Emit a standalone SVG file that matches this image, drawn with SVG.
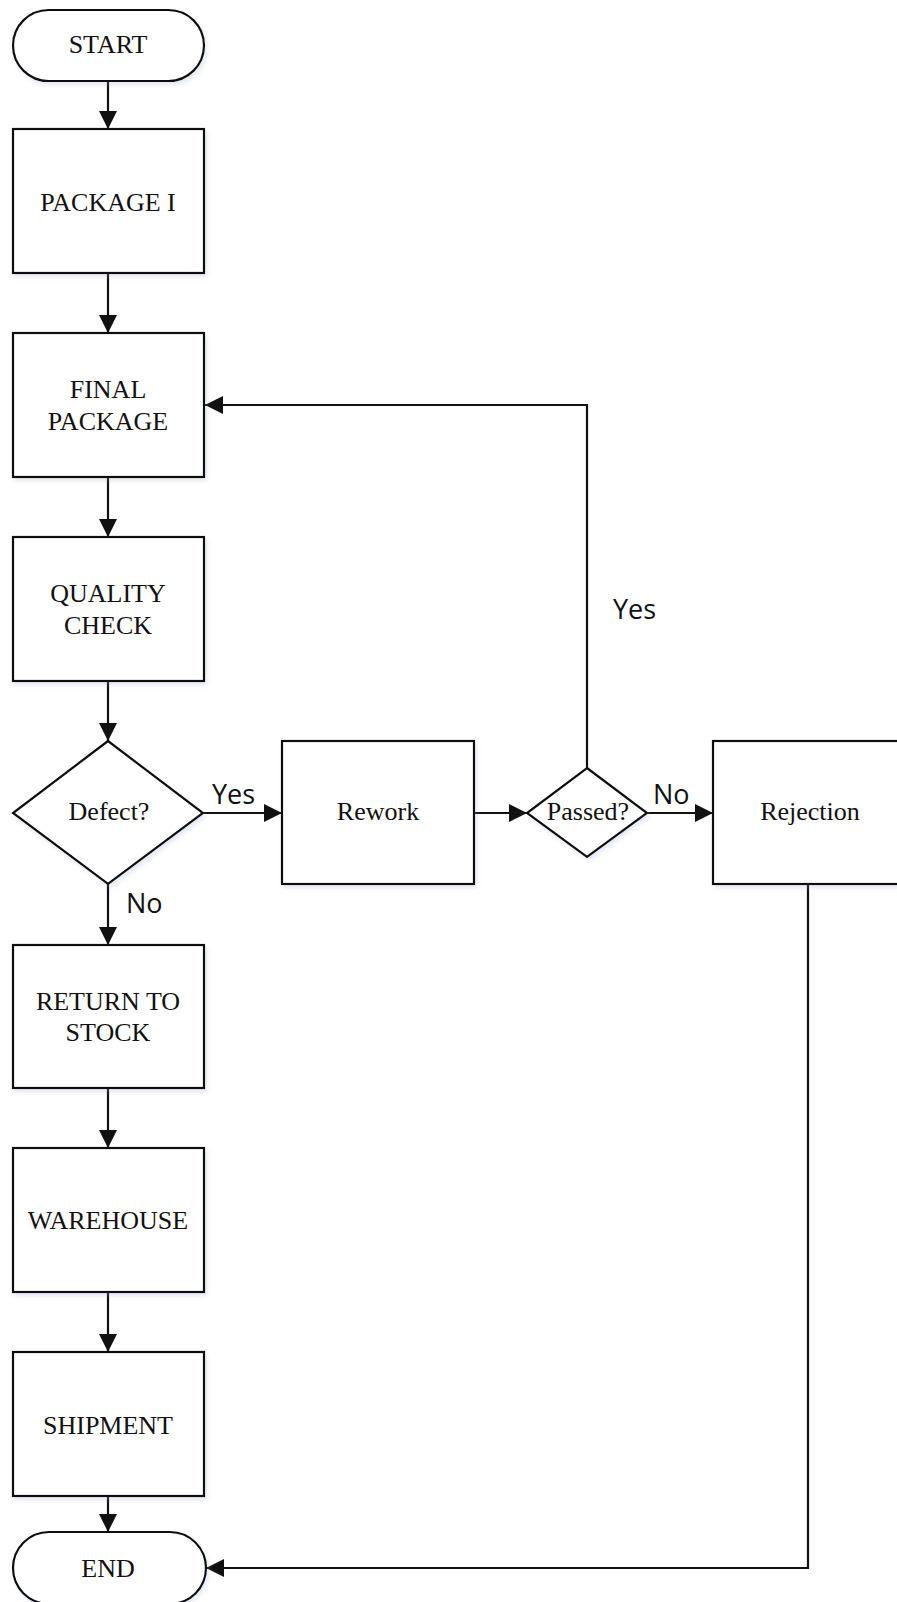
<svg xmlns="http://www.w3.org/2000/svg" width="897" height="1602" viewBox="0 0 897 1602">
<style>
.shape{fill:#fff;stroke:#111;stroke-width:2.2;filter:url(#sh)}
.t{font-family:"Liberation Serif","Times New Roman",serif;font-size:26px;fill:#111;text-anchor:middle}
.lbl{font-family:"Open Sans","Noto Sans",sans-serif;font-size:27px;fill:#111}
.c{fill:none;stroke:#111;stroke-width:2.2;marker-end:url(#ah)}
</style>
<defs>
<marker id="ah" markerUnits="userSpaceOnUse" markerWidth="18" markerHeight="18" refX="18" refY="9" orient="auto">
<path d="M0,0 L18,9 L0,18 z" fill="#111"/>
</marker>
<filter id="sh" x="-10%" y="-10%" width="125%" height="125%">
<feDropShadow dx="2" dy="3" stdDeviation="2" flood-color="#8fa6c8" flood-opacity="0.25"/>
</filter>
</defs>
<rect width="897" height="1602" fill="#fff"/>
<g id="connectors">
<path class="c" d="M108,81 V129"/>
<path class="c" d="M108,273 V333"/>
<path class="c" d="M108,477 V537"/>
<path class="c" d="M108,681 V741"/>
<path class="c" d="M108,884 V945"/>
<path class="c" d="M108,1088 V1148"/>
<path class="c" d="M108,1292 V1352"/>
<path class="c" d="M108,1496 V1532"/>
<path class="c" d="M203,813 H282"/>
<path class="c" d="M474,813 H527"/>
<path class="c" d="M647,813 H713"/>
<path class="c" d="M587,768 V405 H205"/>
<path class="c" d="M808,884 V1568 H206"/>
<text class="lbl" x="212" y="804">Yes</text>
<text class="lbl" x="126" y="913">No</text>
<text class="lbl" x="653" y="804">No</text>
<text class="lbl" x="613" y="619">Yes</text>
</g>
<g id="start"><rect class="shape" x="13" y="10" width="191" height="71" rx="35.5"/><text class="t" x="108" y="53">START</text></g>
<g id="package1"><rect class="shape" x="13" y="129" width="191" height="144"/><text class="t" x="108" y="211">PACKAGE I</text></g>
<g id="finalpackage"><rect class="shape" x="13" y="333" width="191" height="144"/><text class="t" x="108" y="398">FINAL</text><text class="t" x="108" y="430">PACKAGE</text></g>
<g id="qualitycheck"><rect class="shape" x="13" y="537" width="191" height="144"/><text class="t" x="108" y="602">QUALITY</text><text class="t" x="108" y="634">CHECK</text></g>
<g id="defect"><polygon class="shape" points="108,741 203,813 108,884 13,813"/><text class="t" x="109" y="820">Defect?</text></g>
<g id="rework"><rect class="shape" x="282" y="741" width="192" height="143"/><text class="t" x="378" y="820">Rework</text></g>
<g id="passed"><polygon class="shape" points="587,768 647,813 587,857 527,813"/><text class="t" x="588" y="820">Passed?</text></g>
<g id="rejection"><rect class="shape" x="713" y="741" width="194" height="143"/><text class="t" x="810" y="820">Rejection</text></g>
<g id="returntostock"><rect class="shape" x="13" y="945" width="191" height="143"/><text class="t" x="108" y="1010">RETURN TO</text><text class="t" x="108" y="1041">STOCK</text></g>
<g id="warehouse"><rect class="shape" x="13" y="1148" width="191" height="144"/><text class="t" x="108" y="1229">WAREHOUSE</text></g>
<g id="shipment"><rect class="shape" x="13" y="1352" width="191" height="144"/><text class="t" x="108" y="1434">SHIPMENT</text></g>
<g id="end"><rect class="shape" x="13" y="1532" width="193" height="72" rx="36"/><text class="t" x="108" y="1577">END</text></g>
</svg>
